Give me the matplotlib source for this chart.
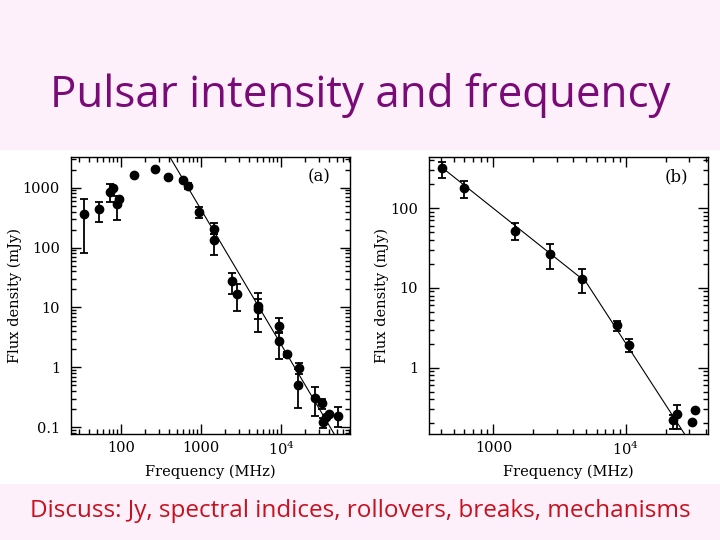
import matplotlib
matplotlib.use("Agg")
import matplotlib.pyplot as plt
import numpy as np
from matplotlib.patches import Rectangle
from matplotlib.ticker import FixedLocator, FixedFormatter, LogLocator, NullFormatter

# panel (a): frequency (MHz), flux density (mJy), error bar limits
freq_a = [34.5, 53, 73, 80, 90, 94, 145, 266, 390, 596, 694, 936, 1440, 1440,
          2420, 2840, 5200, 5200, 9440, 9440, 11800, 16800, 16300, 26600,
          32300, 33800, 36200, 39800, 51600]
flux_a = [364, 436, 858, 1000, 528, 640, 1630, 2075, 1508, 1344, 1080, 388, 204, 134,
          27.7, 16.6, 10.6, 9.4, 4.97, 2.76, 1.66, 0.966, 0.508, 0.305,
          0.252, 0.124, 0.150, 0.165, 0.155]
lo_a = [80, 271, 570, 1000, 289, 640, 1630, 2075, 1508, 1250, 960, 316, 170, 75,
        16.6, 8.7, 6.5, 3.9, 3.7, 1.38, 1.50, 0.776, 0.207, 0.154,
        0.200, 0.096, 0.150, 0.165, 0.102]
hi_a = [640, 583, 1140, 1000, 735, 640, 1630, 2075, 1508, 1420, 1220, 471, 261, 170,
        38.1, 24.7, 17.3, 14.0, 6.6, 3.9, 1.80, 1.17, 0.94, 0.466,
        0.296, 0.141, 0.150, 0.165, 0.216]
line_a_freq = [400, 50000]
line_a_flux = [3400, 0.065]

# panel (b)
freq_b = [407, 604, 1443, 2650, 4660, 8550, 10500, 22500, 24300, 31500, 33400]
flux_b = [315, 180, 51.9, 26.2, 12.9, 3.4, 1.91, 0.219, 0.26, 0.208, 0.298]
lo_b = [236, 132, 39.6, 17.0, 8.5, 2.9, 1.55, 0.172, 0.172, 0.208, 0.298]
hi_b = [381, 220, 64.3, 35.1, 17.2, 3.8, 2.27, 0.258, 0.344, 0.208, 0.298]
line_b_freq = [400, 5000, 30000]
line_b_flux = [331, 11.8, 0.12]

bg = "#fdf0fa"
serif = "DejaVu Serif"

fig = plt.figure(figsize=(7.2, 5.4), dpi=100, facecolor=bg)
# white picture area behind the two plots
fig.patches.append(Rectangle((0, 1 - 484 / 540), 1, 334 / 540, transform=fig.transFigure,
                             facecolor="white", edgecolor="none", zorder=-5))

fig.text(0.5, 1 - 96 / 540, "Pulsar intensity and frequency", ha="center", va="center",
         fontsize=31.6, color="#7a0a78", family="Open Sans")
fig.text(0.5, 1 - 511 / 540, "Discuss: Jy, spectral indices, rollovers, breaks, mechanisms",
         ha="center", va="center", fontsize=17.5, color="#c8101e", family="Open Sans")


def draw_panel(ax, f, s, lo, hi, lf, ls, xlim, ylim, xt, xtl, yt, ytl, tag):
    f = np.array(f); s = np.array(s); lo = np.array(lo); hi = np.array(hi)
    ax.set_xscale("log"); ax.set_yscale("log")
    ax.plot(lf, ls, color="black", lw=0.8, zorder=2)
    m = hi > lo
    ax.errorbar(f[m], s[m], yerr=[s[m] - lo[m], hi[m] - s[m]], fmt="none",
                ecolor="black", elinewidth=1.3, capsize=3, capthick=1.3, zorder=3)
    ax.plot(f, s, "o", color="black", ms=6, zorder=4)
    ax.set_xlim(*xlim); ax.set_ylim(*ylim)
    ax.xaxis.set_major_locator(FixedLocator(xt))
    ax.xaxis.set_major_formatter(FixedFormatter(xtl))
    ax.yaxis.set_major_locator(FixedLocator(yt))
    ax.yaxis.set_major_formatter(FixedFormatter(ytl))
    ax.xaxis.set_minor_locator(LogLocator(base=10, subs=np.arange(2, 10)))
    ax.yaxis.set_minor_locator(LogLocator(base=10, subs=np.arange(2, 10)))
    ax.xaxis.set_minor_formatter(NullFormatter())
    ax.yaxis.set_minor_formatter(NullFormatter())
    ax.tick_params(which="both", direction="in", top=True, right=True, width=1,
                   labelsize=10.5)
    ax.tick_params(axis="x", pad=5)
    ax.tick_params(axis="y", pad=8)
    ax.tick_params(which="major", length=7)
    ax.tick_params(which="minor", length=3.5)
    for lab in ax.get_xticklabels() + ax.get_yticklabels():
        lab.set_family(serif)
    for sp in ax.spines.values():
        sp.set_linewidth(1)
    ax.set_xlabel("Frequency (MHz)", family=serif, fontsize=10.5, labelpad=4.5)
    ax.set_ylabel("Flux density (mJy)", family=serif, fontsize=10.5, labelpad=0.5)
    ax.text(0.93, 0.93, tag, transform=ax.transAxes, ha="right", va="center",
            family=serif, fontsize=12)


ax_a = fig.add_axes([71 / 720, 1 - 434 / 540, 279 / 720, 277 / 540])
draw_panel(ax_a, freq_a, flux_a, lo_a, hi_a, line_a_freq, line_a_flux,
           (23.7, 72900), (0.0773, 3254),
           [100, 1000, 10000], ["100", "1000", r"$\mathregular{10^4}$"],
           [0.1, 1, 10, 100, 1000], ["0.1", "1", "10", "100", "1000"], "(a)")

ax_b = fig.add_axes([429 / 720, 1 - 434 / 540, 278.5 / 720, 277 / 540])
draw_panel(ax_b, freq_b, flux_b, lo_b, hi_b, line_b_freq, line_b_flux,
           (326, 41300), (0.147, 436),
           [1000, 10000], ["1000", r"$\mathregular{10^4}$"],
           [1, 10, 100], ["1", "10", "100"], "(b)")

fig.savefig("out.png", dpi=100, facecolor=bg)
